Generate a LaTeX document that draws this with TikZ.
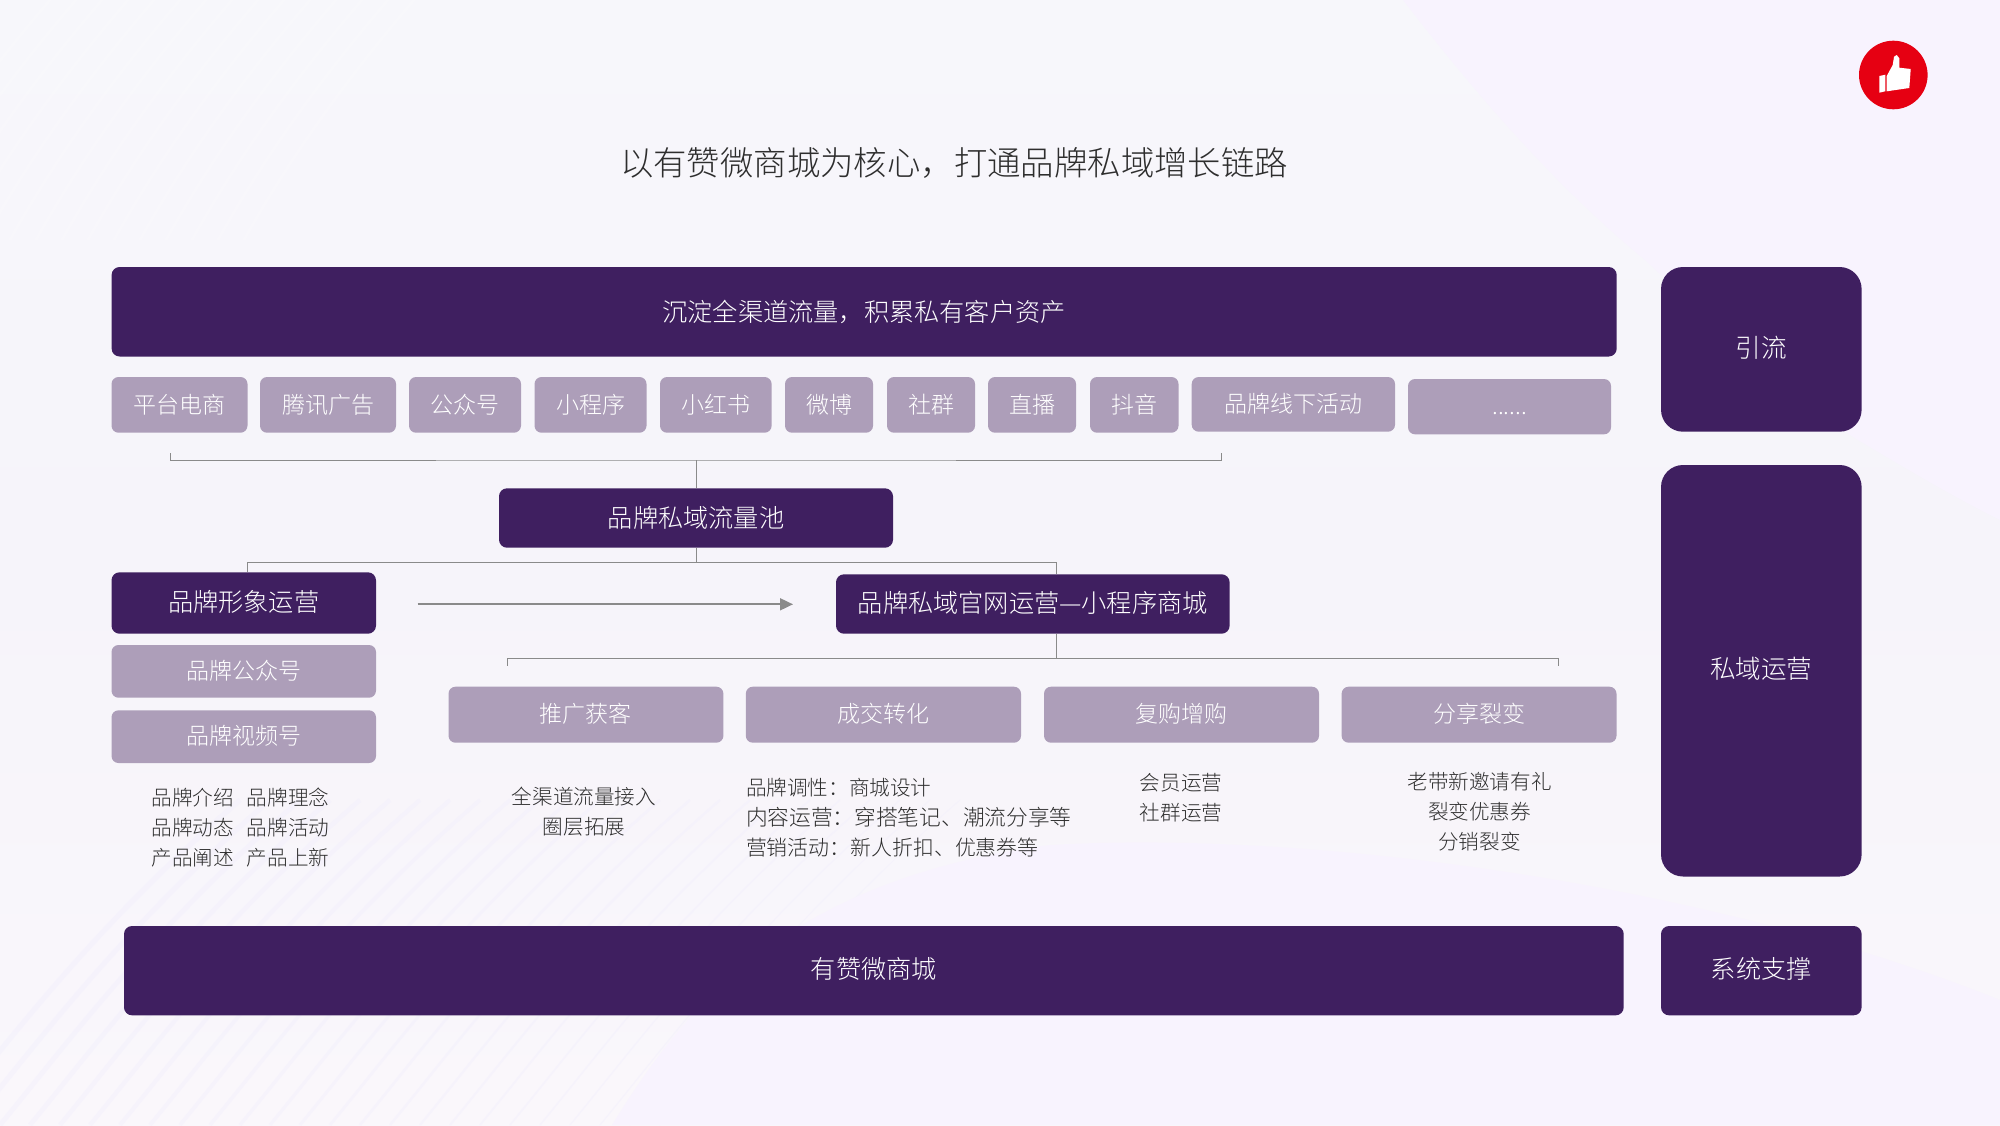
\documentclass[tikz,border=0pt]{standalone}
\usepackage{fontspec}
\setmainfont{Noto Sans CJK SC Light}
\usetikzlibrary{arrows.meta}
\definecolor{bgtop}{HTML}{F7F7FB}
\definecolor{bgmid}{HTML}{F6F4FA}
\definecolor{bglow}{HTML}{FAF7FB}
\definecolor{bgtint}{HTML}{F8F3FE}
\definecolor{stripecol}{HTML}{F3F0FC}
\definecolor{barcol}{HTML}{3F1F60}
\definecolor{chipcol}{HTML}{AD9EB9}
\definecolor{linecol}{HTML}{8A8A8A}
\definecolor{ink}{HTML}{2E2E2E}
\definecolor{thumbred}{HTML}{E60012}
\newcommand{\pxfont}[1]{\fontsize{#1}{#1}\selectfont}
\tikzset{
  x=0.5pt,y=-0.5pt,
  basebox/.style={inner sep=0pt,outer sep=0pt,text=white,text height=0.9em,text depth=0.08em,align=center},
  darkbar/.style={basebox,fill=barcol,rounded corners=4pt,font=\pxfont{12.6}},
  sidebar/.style={basebox,fill=barcol,rounded corners=11pt,font=\pxfont{12.8}},
  chip/.style={basebox,fill=chipcol,rounded corners=3.5pt,font=\pxfont{11.5}},
  desc/.style={inner sep=0pt,outer sep=0pt,text=ink,font=\fontsize{10.3}{15}\selectfont},
  link/.style={draw=linecol,line width=0.5pt},
  flow/.style={draw=linecol,line width=0.9pt,-{Triangle[length=6.5pt,width=6pt]}},
}
% \bx{name}{style}{x0}{y0}{x1}{y1}{text}
\newcommand{\bx}[7]{%
  \pgfmathsetmacro{\bxw}{(#5-#3)*0.5}%
  \pgfmathsetmacro{\bxh}{(#6-#4)*0.5}%
  \pgfmathsetmacro{\bxcx}{(#3+#5)/2}%
  \pgfmathsetmacro{\bxcy}{(#4+#6)/2}%
  \node[#2,minimum width=\bxw pt,minimum height=\bxh pt] (#1) at (\bxcx,\bxcy) {#7};%
}
\begin{document}
\begin{tikzpicture}
\useasboundingbox (0,0) rectangle (2000,1125);
% background
\fill[top color=bgtop,bottom color=bgmid] (0,0) rectangle (2000,560);
\fill[top color=bgmid,bottom color=bglow] (0,560) rectangle (2000,1125);
\foreach \k in {0,1,...,24}{
  \pgfmathsetmacro{\sx}{\k*30-60}
  \pgfmathsetmacro{\sw}{2.6-\k*0.09}
  \draw[stripecol,opacity=0.55,line width=\sw pt] (\sx,1125) .. controls ({\sx+70},1040) and ({\sx+150},930) .. ({\sx+300},800);
}
\foreach \k in {0,1,...,14}{
  \pgfmathsetmacro{\sx}{\k*26-120}
  \draw[white,opacity=0.22,line width=1.2pt] (\sx,240) .. controls ({\sx+50},150) and ({\sx+110},70) .. ({\sx+170},0);
}
\fill[bgtint] (1403,0) .. controls (1480,100) and (1560,190) .. (1645,260) .. controls (1720,330) and (1800,400) .. (1853,437) .. controls (1900,465) and (1950,495) .. (2000,520) -- (2000,0) -- cycle;
\fill[bgtint] (612,1125) .. controls (680,1015) and (780,880) .. (1050,845) .. controls (1300,830) and (1700,880) .. (2000,1000) -- (2000,1125) -- cycle;
% title
\node[inner sep=0pt,text=ink,font=\pxfont{16.7}] (title) at (954,163) {以有赞微商城为核心，打通品牌私域增长链路};
% top and bottom bars
\bx{topbar}{darkbar,text height=1.1em}{111.6}{267}{1616.7}{356.5}{沉淀全渠道流量，积累私有客户资产}
\bx{shopbar}{darkbar}{124}{926}{1623.7}{1015.3}{有赞微商城}
% side bars
\bx{yinliu}{sidebar}{1661}{267}{1861.6}{431.7}{引流}
\bx{siyu}{sidebar}{1661}{465}{1861.6}{876.5}{私域运营}
\bx{xitong}{darkbar}{1661}{926}{1861.6}{1015.3}{系统支撑}
% channel chips
\bx{c1}{chip}{111.5}{377}{247.5}{432.7}{平台电商}
\bx{c2}{chip}{260}{377}{396}{432.7}{腾讯广告}
\bx{c3}{chip}{409}{377}{521}{432.7}{公众号}
\bx{c4}{chip}{534.5}{377}{646.5}{432.7}{小程序}
\bx{c5}{chip}{660}{377}{771.6}{432.7}{小红书}
\bx{c6}{chip}{785}{377}{873}{432.7}{微博}
\bx{c7}{chip}{887}{377}{975}{432.7}{社群}
\bx{c8}{chip}{988}{377}{1076}{432.7}{直播}
\bx{c9}{chip}{1090}{377}{1178.5}{432.7}{抖音}
\bx{c10}{chip}{1191.7}{377}{1395}{431.7}{品牌线下活动}
\bx{c11}{chip}{1408}{379}{1611}{434.3}{......}
% middle
\bx{pool}{darkbar,text height=1em}{499}{488.3}{893}{547.7}{品牌私域流量池}
\bx{image}{darkbar}{111.5}{572.3}{376}{633.7}{品牌形象运营}
\bx{shop}{darkbar}{836}{574.3}{1229.6}{633.7}{品牌私域官网运营—小程序商城}
\bx{gzh}{chip}{111.5}{645}{376}{697.7}{品牌公众号}
\bx{sph}{chip}{111.5}{710.3}{376}{763}{品牌视频号}
\bx{s1}{chip}{448.5}{686.7}{723.4}{742.7}{推广获客}
\bx{s2}{chip}{745.8}{686.7}{1021}{742.7}{成交转化}
\bx{s3}{chip}{1044}{686.7}{1319}{742.7}{复购增购}
\bx{s4}{chip}{1341.6}{686.7}{1616.5}{742.7}{分享裂变}
% descriptions
\node[desc,align=center] (d0) at (240.5,827.5) {品牌介绍\hspace{0.62em}品牌理念\\品牌动态\hspace{0.62em}品牌活动\\产品阐述\hspace{0.62em}产品上新};
\node[desc,align=center] (d1) at (584,811.3) {全渠道流量接入\\圈层拓展};
\node[desc,align=left,anchor=west] (d2) at (746,817.5) {品牌调性：商城设计\\{\fontsize{10.85}{15}\selectfont 内容运营：穿搭笔记、潮流分享等}\\{\fontsize{10.45}{15}\selectfont 营销活动：新人折扣、优惠券等}};
\node[desc,align=center] (d3) at (1181,797.3) {会员运营\\社群运营};
\node[desc,align=center] (d4) at (1479.5,811.2) {老带新邀请有礼\\裂变优惠券\\分销裂变};
% connectors
\coordinate (j1) at (696,460);
\coordinate (j1l) at (170.6,453);
\coordinate (j1r) at (1221,453);
\draw[link] (j1l) |- (j1) -| (j1r);
\draw[link] (j1) -- (pool.north);
\coordinate (j2) at (696,562.3);
\coordinate (j2l) at (247.5,572.3);
\coordinate (j2r) at (1056,574.3);
\draw[link] (pool.south) -- (j2);
\draw[link] (j2l) |- (j2) -| (j2r);
\coordinate (j3) at (1056,658.3);
\coordinate (j3l) at (507,665.7);
\coordinate (j3r) at (1558,665.7);
\coordinate (shopb) at (1056,633.7);
\draw[link] (shopb) -- (j3);
\draw[link] (j3l) |- (j3) -| (j3r);
\coordinate (arrs) at (417.5,604.3);
\coordinate (arre) at (793,604.3);
\draw[flow] (arrs) -- (arre);
% thumb badge
\fill[thumbred] (1893.3,75) circle[radius=34.3];
\fill[white] (1886.7,76) -- (1892.7,65) -- (1894,56.7) -- (1896.7,55) -- (1899.3,58.3) -- (1899.3,67.7) -- (1910.7,69) -- (1909.3,88) -- (1886.7,91.3) -- cycle;
\fill[white] (1879.3,76) -- (1885.3,74.7) -- (1885.3,91.3) -- (1879.3,92.7) -- cycle;
\end{tikzpicture}
\end{document}
